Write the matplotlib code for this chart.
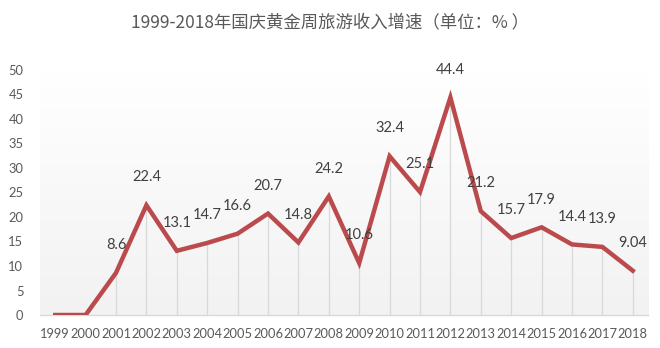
import numpy as np
import matplotlib.pyplot as plt
from matplotlib.colors import LinearSegmentedColormap

plt.rcParams['font.family'] = ['Lato', 'Noto Sans CJK SC', 'DejaVu Sans']

years = ['1999', '2000', '2001', '2002', '2003', '2004', '2005', '2006', '2007', '2008',
         '2009', '2010', '2011', '2012', '2013', '2014', '2015', '2016', '2017', '2018']
growth = [0, 0, 8.6, 22.4, 13.1, 14.7, 16.6, 20.7, 14.8, 24.2,
          10.6, 32.4, 25.1, 44.4, 21.2, 15.7, 17.9, 14.4, 13.9, 9.04]
value_labels = ['', '', '8.6', '22.4', '13.1', '14.7', '16.6', '20.7', '14.8', '24.2',
                '10.6', '32.4', '25.1', '44.4', '21.2', '15.7', '17.9', '14.4', '13.9', '9.04']
y_ticks = [0, 5, 10, 15, 20, 25, 30, 35, 40, 45, 50]

fig = plt.figure(figsize=(6.6, 3.48), dpi=100)
ax = fig.add_axes([40 / 660, 1 - 315 / 348, 608 / 660, 245 / 348])

x = np.arange(len(years))

# faint grey wash towards the bottom of the plot area
grad = np.linspace(0, 1, 256).reshape(-1, 1)
wash = LinearSegmentedColormap.from_list('wash', ['#f2f2f2', '#ffffff'])
ax.imshow(grad, extent=[-0.5, len(years) - 0.5, 0, 50], aspect='auto',
          cmap=wash, origin='lower', zorder=0)

# thin drop lines from each point to the axis
ax.vlines(x, 0, growth, colors='#d9d9d9', linewidth=0.9, zorder=1)

ax.plot(x, growth, color='#bb4a4c', linewidth=3.2, solid_joinstyle='miter', zorder=3)

for xi, yi, txt in zip(x, growth, value_labels):
    if txt:
        ax.annotate(txt, (xi, yi), xytext=(0, 20), textcoords='offset points',
                    ha='center', va='center', fontsize=10.5, color='#404040', zorder=4)

ax.set_xlim(-0.5, len(years) - 0.5)
ax.set_ylim(0, 50)
ax.set_xticks(x)
ax.set_xticklabels(years)
ax.set_yticks(y_ticks)
ax.tick_params(axis='both', length=0, labelsize=9.3, colors='#595959')
ax.tick_params(axis='y', pad=12)
ax.tick_params(axis='x', pad=9)

for side in ['top', 'right', 'left']:
    ax.spines[side].set_visible(False)
ax.spines['bottom'].set_color('#d9d9d9')
ax.spines['bottom'].set_linewidth(1.0)

fig.text(0.5, 1 - 22 / 348, '1999-2018年国庆黄金周旅游收入增速（单位：% ）',
         ha='center', va='center', fontsize=12.5, color='#595959',
         family=['Noto Sans CJK SC', 'DejaVu Sans'])

fig.savefig('out.png', dpi=100, facecolor='white')
